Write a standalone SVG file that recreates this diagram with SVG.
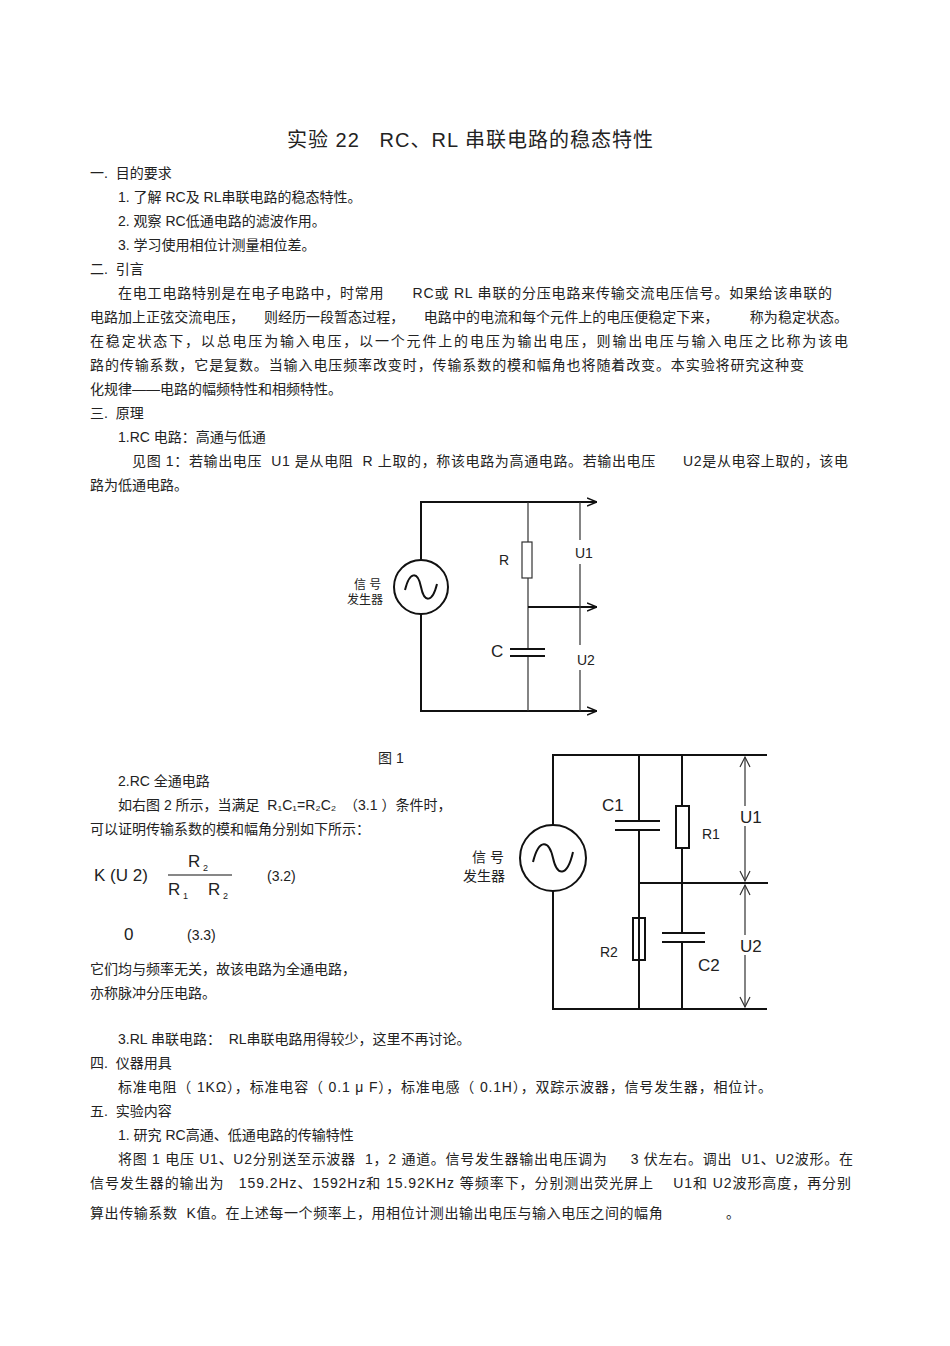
<svg xmlns="http://www.w3.org/2000/svg" width="950" height="1346" viewBox="0 0 950 1346">
<style>
text{font-family:"Liberation Sans","Noto Sans CJK SC",sans-serif;font-size:14px;fill:#222;white-space:pre}
.t{font-size:20px}
.l{font-size:14px}
.big{font-size:17px}
.w{stroke:#111;stroke-width:2;fill:none}
.th{stroke:#333;stroke-width:1.2;fill:none}
</style>
<defs>
<marker id="ar" viewBox="0 0 10 10" refX="10" refY="5" markerWidth="10" markerHeight="10" markerUnits="userSpaceOnUse" orient="auto"><path d="M0,1 L10,5 L0,9" fill="none" stroke="#111" stroke-width="1.6"/></marker>
</defs>
<rect width="950" height="1346" fill="#fff"/>
<text class="t" x="287" y="147" textLength="366" lengthAdjust="spacing">实验 22   RC、RL 串联电路的稳态特性</text>
<text x="90" y="178">一.  目的要求</text>
<text x="118" y="202">1. 了解 RC及 RL串联电路的稳态特性。</text>
<text x="118" y="226">2. 观察 RC低通电路的滤波作用。</text>
<text x="118" y="250">3. 学习使用相位计测量相位差。</text>
<text x="90" y="274">二.  引言</text>
<text x="118" y="298" textLength="714" lengthAdjust="spacing">在电工电路特别是在电子电路中，时常用      RC或 RL 串联的分压电路来传输交流电压信号。如果给该串联的</text>
<text x="90" y="322" textLength="758" lengthAdjust="spacing">电路加上正弦交流电压，     则经历一段暂态过程，     电路中的电流和每个元件上的电压便稳定下来，        称为稳定状态。</text>
<text x="90" y="346" textLength="758" lengthAdjust="spacing">在稳定状态下，以总电压为输入电压，以一个元件上的电压为输出电压，则输出电压与输入电压之比称为该电</text>
<text x="90" y="370" textLength="714" lengthAdjust="spacing">路的传输系数，它是复数。当输入电压频率改变时，传输系数的模和幅角也将随着改变。本实验将研究这种变</text>
<text x="90" y="394">化规律——电路的幅频特性和相频特性。</text>
<text x="90" y="418">三.  原理</text>
<text x="118" y="442">1.RC 电路：高通与低通</text>
<text x="132" y="466" textLength="716" lengthAdjust="spacing">见图 1：若输出电压  U1 是从电阻  R 上取的，称该电路为高通电路。若输出电压      U2是从电容上取的，该电</text>
<text x="90" y="490">路为低通电路。</text>
<g id="circuit1">
<path class="w" d="M421,560 V502 H597" marker-end="url(#ar)"/>
<path class="w" d="M421,614 V711 H597" marker-end="url(#ar)"/>
<circle cx="421" cy="587" r="27" class="w"/>
<path class="w" d="M405,590 C410,570 418,572 421,587 C424,602 432,604 437,584"/>
<path class="th" d="M528,502 V542 M528,578 V649 M528,656 V711"/>
<rect x="522" y="542" width="10" height="36" class="th" fill="#fff"/>
<path class="w" d="M510,649 H545 M510,656 H545"/>
<path class="w" d="M528,607 H597" marker-end="url(#ar)"/>
<path class="th" d="M580,502 V540 M580,564 V645 M580,670 V711"/>
<text class="l" x="499" y="565">R</text>
<text class="big" x="491" y="657">C</text>
<text class="l" x="575" y="558">U1</text>
<text class="l" x="577" y="665">U2</text>
<text style="font-size:12px" x="354" y="589">信 号</text>
<text style="font-size:12px" x="347" y="604">发生器</text>
</g>
<text x="378" y="763">图 1</text>
<text x="118" y="786">2.RC 全通电路</text>
<text x="118" y="810">如右图 2 所示，当满足  R₁C₁=R₂C₂  （3.1 ）条件时，</text>
<text x="90" y="834">可以证明传输系数的模和幅角分别如下所示：</text>
<text class="big" x="94" y="881">K (U 2)</text>
<text class="big" x="188" y="867">R</text><text style="font-size:9px" x="203" y="871">2</text>
<line x1="168" y1="875" x2="232" y2="875" stroke="#111" stroke-width="1.2"/>
<text class="big" x="168" y="895">R</text><text style="font-size:9px" x="183" y="899">1</text>
<text class="big" x="208" y="895">R</text><text style="font-size:9px" x="223" y="899">2</text>
<text x="267" y="881">(3.2)</text>
<text class="big" x="124" y="940">0</text>
<text x="187" y="940">(3.3)</text>
<text x="90" y="974">它们均与频率无关，故该电路为全通电路，</text>
<text x="90" y="998">亦称脉冲分压电路。</text>
<g id="circuit2">
<path class="w" d="M553,825 V755 H767 M553,891 V1009 H767"/>
<circle cx="553" cy="858" r="33" class="w"/>
<path class="w" d="M533,862 C539,838 549,840 553,858 C557,876 567,878 573,852"/>
<path class="w" d="M639,755 V821 M639,830 V1009 M682,755 V806 M682,848 V933 M682,942 V1009 M639,883 H768"/>
<path class="w" d="M615,821 H660 M615,830 H660 M662,933 H705 M662,942 H705"/>
<rect x="676" y="806" width="13" height="42" class="w" fill="#fff"/>
<rect x="633" y="918" width="12" height="42" class="w" fill="#fff"/>
<path class="th" d="M745,757 V881 M745,885 V1007"/>
<path class="th" d="M740,767 L745,757 L750,767 M740,871 L745,881 L750,871 M740,895 L745,885 L750,895 M740,997 L745,1007 L750,997"/>
<text class="big" x="602" y="811">C1</text>
<text class="l" x="702" y="839">R1</text>
<text class="l" x="600" y="957">R2</text>
<text class="big" x="698" y="971">C2</text>
<rect x="739" y="806" width="24" height="20" fill="#fff"/>
<rect x="739" y="935" width="24" height="20" fill="#fff"/>
<text class="big" x="740" y="823">U1</text>
<text class="big" x="740" y="952">U2</text>
<text x="472" y="862">信 号</text>
<text x="463" y="881">发生器</text>
</g>
<text x="118" y="1044">3.RL 串联电路：  RL串联电路用得较少，这里不再讨论。</text>
<text x="90" y="1068">四.  仪器用具</text>
<text x="118" y="1092" textLength="654" lengthAdjust="spacing">标准电阻（ 1KΩ），标准电容（ 0.1 μ F），标准电感（ 0.1H），双踪示波器，信号发生器，相位计。</text>
<text x="90" y="1116">五.  实验内容</text>
<text x="118" y="1140">1. 研究 RC高通、低通电路的传输特性</text>
<text x="118" y="1164" textLength="735" lengthAdjust="spacing">将图 1 电压 U1、U2分别送至示波器  1，2 通道。信号发生器输出电压调为     3 伏左右。调出  U1、U2波形。在</text>
<text x="90" y="1188" textLength="761" lengthAdjust="spacing">信号发生器的输出为   159.2Hz、1592Hz和 15.92KHz 等频率下，分别测出荧光屏上    U1和 U2波形高度，再分别</text>
<text x="90" y="1218" textLength="650" lengthAdjust="spacing">算出传输系数  K值。在上述每一个频率上，用相位计测出输出电压与输入电压之间的幅角              。</text>
</svg>
